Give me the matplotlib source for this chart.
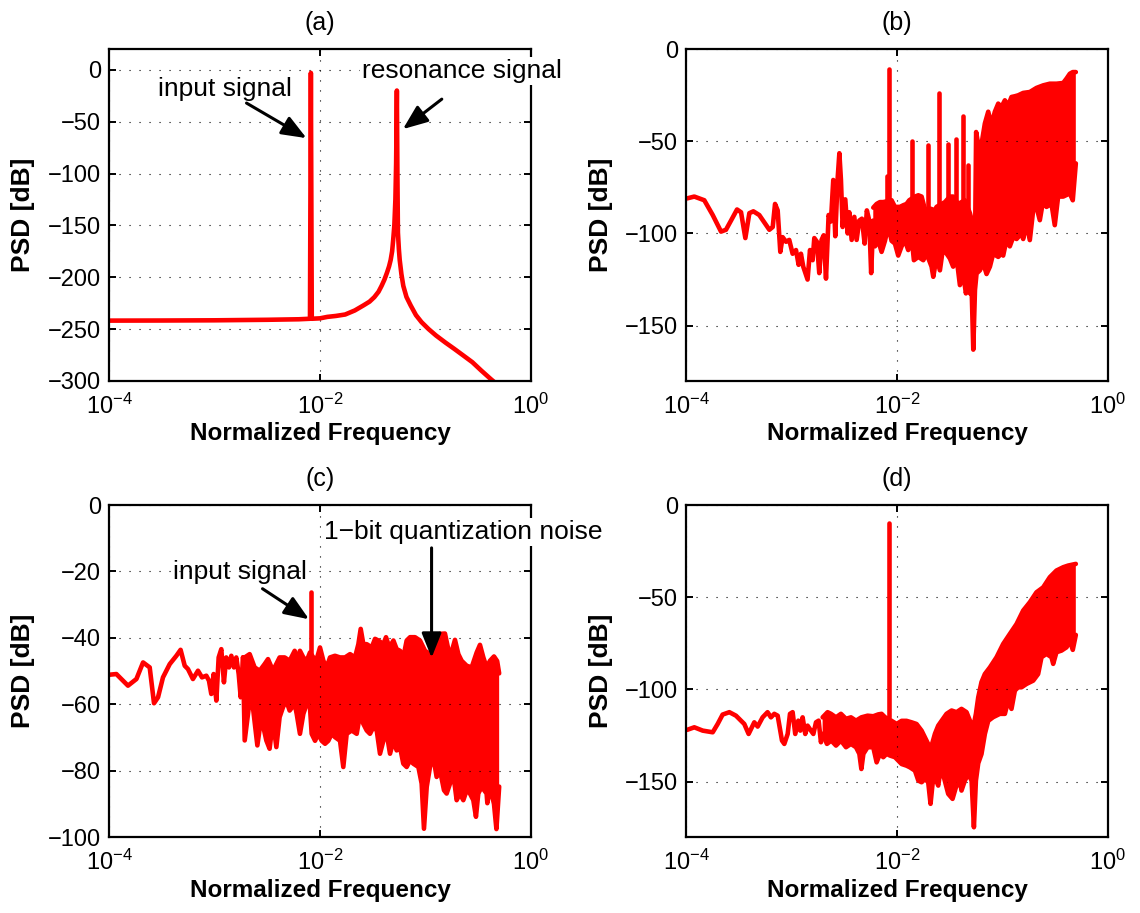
import numpy as np
import matplotlib
matplotlib.use("Agg")
import matplotlib.pyplot as plt
from matplotlib.ticker import NullLocator, FixedLocator

plt.rcParams['font.family'] = ['Liberation Sans', 'DejaVu Sans']
plt.rcParams['mathtext.fontset'] = 'custom'
plt.rcParams['mathtext.rm'] = 'Liberation Sans'
plt.rcParams['mathtext.it'] = 'Liberation Sans:italic'
plt.rcParams['mathtext.bf'] = 'Liberation Sans:bold'

RED = '#ff0000'
LW = 3.3

# ---------------------------------------------------------------- (a)
# ideal resonator response with the input tone, log10 of normalized frequency
a_log10f = [-4.0, -3.5, -3.0, -2.5, -2.2, -2.095, -2.0865, -2.078, -2.0,
            -1.93, -1.85, -1.761, -1.67, -1.589, -1.53, -1.485, -1.445,
            -1.416, -1.39, -1.364, -1.345, -1.33, -1.316, -1.306, -1.295,
            -1.285, -1.278, -1.271, -1.266, -1.261, -1.252, -1.244, -1.228,
            -1.21, -1.18, -1.14, -1.09, -1.037, -0.97, -0.899, -0.81, -0.727,
            -0.64, -0.555, -0.47, -0.382, -0.301]
a_db = [-241.8, -241.7, -241.5, -241.0, -240.5, -240.0, -3.0, -240.0, -239.6,
        -238.2, -237.3, -235.9, -232.0, -227.2, -223.5, -219.2, -214.0,
        -208.3, -202.5, -195.4, -189.5, -183.4, -175.0, -164.1, -150.0,
        -125.0, -90.0, -20.0, -100.0, -157.0, -173.0, -183.4, -197.0,
        -208.3, -219.0, -227.2, -236.5, -243.3, -250.0, -256.2, -263.0, -269.0,
        -275.5, -281.9, -290.0, -298.0, -305.0]

# ---------------------------------------------------------------- (b)
b_trace_log10f = [-3.994, -3.925, -3.83, -3.75, -3.671, -3.624, -3.576, -3.519,
                  -3.481, -3.44, -3.402, -3.364, -3.308, -3.26, -3.212, -3.18,
                  -3.158, -3.133, -3.108, -3.086, -3.054, -3.023, -2.991, -2.959,
                  -2.934, -2.912, -2.89, -2.849, -2.826, -2.801, -2.785, -2.76,
                  -2.738, -2.716, -2.696, -2.674, -2.649, -2.627, -2.605, -2.586,
                  -2.563, -2.547, -2.532, -2.516, -2.491, -2.468, -2.453, -2.43,
                  -2.405, -2.383, -2.358, -2.333, -2.307, -2.286, -2.263, -2.245,
                  -2.225]
b_trace_db = [-81.0, -80.0, -82.0, -90.0, -99.0, -98.0, -93.0, -87.0,
              -88.5, -102.5, -89.0, -88.0, -90.0, -94.0, -98.0, -96.5,
              -84.0, -87.5, -110.0, -102.0, -104.5, -103.5, -111.0, -109.0,
              -117.0, -111.0, -118.0, -125.0, -109.0, -114.5, -102.5, -104.5,
              -121.5, -103.5, -101.0, -124.5, -90.0, -93.5, -71.0, -101.5,
              -70.0, -56.5, -71.0, -96.5, -81.5, -100.0, -88.5, -103.5,
              -91.0, -103.5, -93.0, -92.0, -105.5, -87.5, -93.0, -121.5,
              -93.0]

b_hi_log10f = [-2.225, -2.193, -2.162, -2.13, -2.051, -2.019, -1.972, -1.94,
               -1.909, -1.883, -1.829, -1.797, -1.766, -1.734, -1.687, -1.639,
               -1.624, -1.576, -1.544, -1.497, -1.466, -1.418, -1.355, -1.307,
               -1.275, -1.256, -1.248, -1.212, -1.181, -1.165, -1.133, -1.102,
               -1.07, -1.038, -1.007, -0.975, -0.943, -0.912, -0.88, -0.849,
               -0.801, -0.738, -0.675, -0.611, -0.548, -0.485, -0.421, -0.389,
               -0.358, -0.33, -0.301]
b_hi_db = [-86.0, -84.0, -83.0, -83.0, -82.0, -85.6, -85.6, -84.7,
           -84.0, -82.0, -80.0, -79.3, -80.0, -87.0, -86.5, -87.4,
           -85.6, -84.0, -83.0, -80.0, -80.0, -84.0, -82.0, -89.0,
           -96.0, -92.0, -45.0, -57.0, -46.0, -40.4, -34.0, -41.0,
           -34.0, -29.6, -31.4, -27.8, -30.5, -26.0, -25.6, -25.1,
           -23.8, -23.3, -21.1, -19.7, -18.8, -18.8, -18.4, -16.0,
           -13.4, -12.5, -12.5]

b_lo_log10f = [-2.225, -2.209, -2.177, -2.146, -2.114, -2.082, -2.051, -2.019,
               -1.988, -1.956, -1.925, -1.893, -1.861, -1.839, -1.797, -1.75,
               -1.719, -1.671, -1.655, -1.624, -1.592, -1.561, -1.529, -1.497,
               -1.466, -1.434, -1.402, -1.371, -1.345, -1.323, -1.307, -1.291,
               -1.275, -1.259, -1.244, -1.212, -1.181, -1.149, -1.117, -1.086,
               -1.038, -1.007, -0.991, -0.96, -0.928, -0.896, -0.864, -0.817,
               -0.801, -0.77, -0.738, -0.706, -0.675, -0.643, -0.611, -0.58,
               -0.532, -0.501, -0.469, -0.421, -0.358, -0.33, -0.301]
b_lo_db = [-104.0, -107.0, -104.0, -110.0, -104.0, -96.0, -104.0, -105.5,
           -112.0, -107.0, -103.6, -109.0, -102.0, -114.5, -112.7, -114.5,
           -110.9, -118.0, -123.5, -113.0, -120.0, -107.2, -110.9, -113.6,
           -118.0, -113.0, -128.0, -121.7, -132.5, -125.3, -132.5, -129.0,
           -163.0, -130.7, -121.7, -120.0, -116.0, -122.0, -118.0, -111.0,
           -112.7, -110.9, -112.0, -103.6, -107.0, -102.0, -103.0, -100.0,
           -103.0, -94.6, -103.6, -87.4, -85.6, -92.8, -82.0, -85.6,
           -84.0, -95.5, -80.0, -80.0, -78.3, -82.0, -62.0]

b_tone_log10f = [-2.098, -2.076, -1.861, -1.709, -1.598, -1.513, -1.44, -1.376, -1.322]
b_tone_base = [-84.0, -84.0, -82.0, -86.0, -86.0, -83.0, -82.0, -82.0, -88.0]
b_tone_top = [-69.0, -11.0, -50.0, -52.3, -23.8, -51.6, -48.6, -36.1, -63.0]

# ---------------------------------------------------------------- (c)
c_trace_log10f = [-3.995, -3.931, -3.821, -3.741, -3.678, -3.615, -3.574, -3.536,
                  -3.489, -3.425, -3.362, -3.322, -3.283, -3.252, -3.205, -3.157,
                  -3.119, -3.078, -3.053, -3.031, -3.009, -2.983, -2.961, -2.936,
                  -2.911, -2.889, -2.863, -2.841, -2.816, -2.794, -2.771, -2.752,
                  -2.73]
c_trace_db = [-51.1, -50.9, -54.4, -52.4, -47.4, -48.9, -59.7, -57.9,
              -51.9, -47.9, -45.4, -43.6, -48.4, -49.4, -52.4, -49.9,
              -51.9, -51.4, -52.9, -56.9, -50.9, -58.9, -45.9, -43.4,
              -53.4, -45.9, -48.9, -45.4, -48.9, -45.9, -50.9, -57.9,
              -45.9]

c_hi_log10f = [-2.73, -2.714, -2.667, -2.62, -2.572, -2.525, -2.493, -2.446,
               -2.383, -2.335, -2.288, -2.24, -2.221, -2.19, -2.158, -2.126,
               -2.095, -2.063, -2.031, -2.0, -1.968, -1.937, -1.905, -1.858,
               -1.81, -1.763, -1.715, -1.668, -1.636, -1.614, -1.589, -1.557,
               -1.51, -1.478, -1.446, -1.399, -1.374, -1.342, -1.304, -1.273,
               -1.241, -1.21, -1.178, -1.146, -1.099, -1.052, -1.004, -0.957,
               -0.894, -0.862, -0.815, -0.767, -0.72, -0.688, -0.657, -0.609,
               -0.562, -0.514, -0.483, -0.451, -0.42, -0.388, -0.35, -0.32,
               -0.301]
c_hi_db = [-45.9, -45.9, -44.9, -48.9, -49.9, -47.9, -46.4, -49.9,
           -45.9, -45.9, -46.9, -43.9, -46.9, -43.9, -45.9, -46.9,
           -44.4, -45.9, -46.4, -42.9, -46.9, -48.9, -45.9, -45.4,
           -45.9, -45.9, -44.9, -45.9, -41.9, -37.3, -41.9, -41.9,
           -42.9, -40.3, -40.8, -41.9, -39.8, -42.9, -40.8, -43.4,
           -43.9, -45.9, -40.8, -39.8, -39.8, -40.8, -43.9, -44.9,
           -41.9, -38.8, -38.7, -45.9, -40.6, -44.9, -46.9, -48.4,
           -48.9, -44.4, -42.1, -45.9, -48.9, -46.9, -45.6, -47.0,
           -50.7]

c_lo_log10f = [-2.73, -2.714, -2.667, -2.636, -2.594, -2.557, -2.509, -2.478,
               -2.446, -2.414, -2.383, -2.351, -2.32, -2.288, -2.24, -2.221,
               -2.19, -2.158, -2.126, -2.095, -2.079, -2.047, -2.016, -1.984,
               -1.952, -1.921, -1.889, -1.858, -1.81, -1.779, -1.747, -1.699,
               -1.652, -1.62, -1.589, -1.557, -1.526, -1.494, -1.462, -1.431,
               -1.399, -1.367, -1.336, -1.304, -1.273, -1.241, -1.21, -1.178,
               -1.146, -1.115, -1.067, -1.036, -1.014, -0.988, -0.957, -0.925,
               -0.894, -0.862, -0.824, -0.799, -0.767, -0.736, -0.704, -0.673,
               -0.641, -0.609, -0.578, -0.546, -0.521, -0.499, -0.467, -0.42,
               -0.413, -0.388, -0.35, -0.327, -0.301]
c_lo_db = [-45.9, -70.9, -58.9, -60.9, -72.4, -63.9, -70.9, -73.4,
           -64.9, -72.9, -63.9, -60.9, -58.9, -61.9, -59.9, -62.9,
           -68.9, -62.9, -59.9, -60.9, -68.9, -71.0, -68.9, -71.0,
           -71.9, -71.0, -68.9, -69.9, -71.0, -78.9, -68.9, -67.9,
           -68.9, -62.9, -65.9, -67.9, -68.9, -66.9, -67.9, -74.9,
           -71.0, -68.9, -74.9, -71.0, -73.9, -72.9, -77.9, -78.9,
           -76.9, -77.9, -78.9, -83.9, -97.5, -84.9, -78.9, -75.9,
           -81.9, -79.9, -85.9, -86.9, -83.9, -80.9, -88.9, -86.9,
           -88.9, -85.9, -86.9, -88.9, -93.9, -86.9, -84.9, -86.9,
           -89.8, -84.9, -90.0, -97.6, -84.8]

c_tone_log10f = [-2.086]
c_tone_base = [-45.0]
c_tone_top = [-26.1]

# ---------------------------------------------------------------- (d)
d_trace_log10f = [-3.994, -3.925, -3.845, -3.75, -3.703, -3.656, -3.592, -3.529,
                  -3.45, -3.409, -3.355, -3.323, -3.276, -3.229, -3.197, -3.165,
                  -3.133, -3.092, -3.07, -3.038, -3.016, -2.991, -2.966, -2.937,
                  -2.918, -2.896, -2.871, -2.849, -2.817, -2.794, -2.769, -2.744,
                  -2.722, -2.706]
d_trace_db = [-121.9, -120.5, -122.3, -123.2, -118.7, -113.6, -112.3, -114.2,
              -118.7, -124.1, -117.8, -120.1, -115.1, -112.3, -115.1, -113.2,
              -114.2, -127.7, -129.5, -124.1, -113.2, -112.3, -124.1, -116.9,
              -122.3, -115.1, -124.1, -119.6, -122.3, -124.1, -117.8, -116.9,
              -128.6, -124.1]

d_hi_log10f = [-2.706, -2.659, -2.627, -2.579, -2.532, -2.484, -2.437, -2.389,
               -2.338, -2.279, -2.225, -2.177, -2.146, -2.114, -2.051, -2.003,
               -1.956, -1.909, -1.861, -1.814, -1.766, -1.734, -1.703, -1.671,
               -1.639, -1.608, -1.576, -1.529, -1.481, -1.434, -1.387, -1.339,
               -1.307, -1.275, -1.25, -1.228, -1.197, -1.165, -1.117, -1.054,
               -0.991, -0.928, -0.864, -0.801, -0.738, -0.675, -0.611, -0.548,
               -0.485, -0.421, -0.374, -0.301]
d_hi_db = [-115.1, -112.3, -113.2, -115.1, -113.2, -115.9, -115.1, -116.9,
           -115.1, -114.2, -114.5, -113.5, -113.2, -115.0, -117.0, -118.7,
           -117.0, -117.0, -117.8, -118.7, -122.3, -126.0, -129.6, -130.5,
           -124.0, -119.6, -117.0, -113.2, -111.4, -112.3, -110.5, -112.3,
           -116.9, -120.5, -113.2, -104.3, -96.0, -91.6, -88.0, -82.5,
           -75.3, -69.9, -64.5, -57.2, -52.7, -47.3, -44.6, -39.1,
           -35.5, -33.7, -32.8, -31.9]

d_lo_log10f = [-2.706, -2.665, -2.624, -2.579, -2.532, -2.484, -2.437, -2.389,
               -2.357, -2.338, -2.319, -2.279, -2.225, -2.193, -2.162, -2.13,
               -2.098, -2.067, -2.019, -1.956, -1.909, -1.877, -1.829, -1.797,
               -1.766, -1.734, -1.703, -1.681, -1.662, -1.639, -1.608, -1.592,
               -1.554, -1.513, -1.472, -1.44, -1.402, -1.387, -1.355, -1.323,
               -1.291, -1.269, -1.25, -1.228, -1.197, -1.165, -1.133, -1.086,
               -1.022, -0.975, -0.943, -0.912, -0.88, -0.849, -0.817, -0.77,
               -0.706, -0.659, -0.627, -0.58, -0.532, -0.516, -0.485, -0.437,
               -0.389, -0.358, -0.33, -0.301]
d_lo_db = [-124.1, -129.5, -127.7, -130.4, -127.7, -131.3, -129.5, -131.3,
           -134.9, -143.1, -134.9, -131.3, -131.3, -139.5, -134.9, -136.7,
           -134.9, -135.8, -136.7, -140.4, -141.3, -142.2, -144.0, -149.4,
           -150.3, -148.5, -150.3, -162.0, -151.2, -147.6, -152.1, -145.8,
           -147.6, -156.6, -159.3, -153.0, -149.4, -154.8, -149.4, -145.8,
           -149.4, -174.7, -149.4, -140.0, -135.0, -124.1, -117.0, -115.0,
           -113.2, -113.2, -106.0, -110.5, -100.6, -98.8, -98.8, -97.0,
           -95.2, -91.6, -82.5, -80.7, -82.5, -86.1, -79.8, -78.9,
           -77.1, -73.5, -78.5, -70.4]

d_tone_log10f = [-2.076]
d_tone_base = [-115.0]
d_tone_top = [-9.9]


def style_axes(ax, ylim, yticks, title):
    ax.set_xscale('log')
    ax.set_xlim(1e-4, 1.0)
    ax.set_ylim(*ylim)
    ax.xaxis.set_major_locator(FixedLocator([1e-4, 1e-2, 1.0]))
    ax.xaxis.set_minor_locator(NullLocator())
    ax.set_yticks(yticks)
    ax.grid(True, which='major', color='black', linestyle=(0, (1, 8)),
            linewidth=0.8)
    ax.tick_params(which='both', direction='in', top=True, right=True,
                   length=5, width=1.4, labelsize=17)
    ax.tick_params(axis='y', pad=6)
    ax.tick_params(axis='x', pad=9)
    for sp in ax.spines.values():
        sp.set_linewidth(1.6)
    ax.set_title(title, fontsize=18, pad=14)
    ax.set_xlabel('Normalized Frequency', fontsize=17.5, fontweight='bold')
    ax.set_ylabel('PSD [dB]', fontsize=19, fontweight='bold')
    ax.xaxis.set_label_coords(0.5, -0.125)
    ax.yaxis.set_label_coords(-0.175, 0.5)


def draw_spectrum(ax, trace_lf, trace_db, hi_lf, hi_db, lo_lf, lo_db,
                  tone_lf, tone_base, tone_top):
    hi_f = 10.0 ** np.asarray(hi_lf)
    lo_f = 10.0 ** np.asarray(lo_lf)
    ax.fill(np.r_[hi_f, lo_f[::-1]], np.r_[hi_db, lo_db[::-1]],
            color=RED, lw=0)
    kw = dict(color=RED, lw=LW, solid_joinstyle='round', solid_capstyle='round')
    ax.plot(10.0 ** np.asarray(trace_lf), trace_db, **kw)
    ax.plot(hi_f, hi_db, **kw)
    ax.plot(lo_f, lo_db, **kw)
    for lf, b0, t0 in zip(tone_lf, tone_base, tone_top):
        ax.plot([10.0 ** lf, 10.0 ** lf], [b0, t0], **kw)


def arrow(ax, start, tip):
    ax.annotate('', xy=tip, xytext=start,
                arrowprops=dict(arrowstyle='-|>,head_length=0.75,head_width=0.3',
                                color='black', lw=2.2, mutation_scale=20,
                                shrinkA=0, shrinkB=0))


fig = plt.figure(figsize=(11.4, 9.13), dpi=100)
ax_a = fig.add_axes([0.0957, 0.5827, 0.3700, 0.3636])
ax_b = fig.add_axes([0.6021, 0.5827, 0.3694, 0.3636])
ax_c = fig.add_axes([0.0957, 0.0832, 0.3700, 0.3636])
ax_d = fig.add_axes([0.6021, 0.0832, 0.3694, 0.3636])

# (a)
ax_a.plot(10.0 ** np.asarray(a_log10f), a_db, color=RED, lw=LW,
          solid_joinstyle='round')
style_axes(ax_a, (-300, 20), np.arange(-300, 1, 50), '(a)')
ax_a.text(2.92e-4, -25.7, 'input signal', fontsize=19)
arrow(ax_a, (0.00201, -32.1), (0.00745, -65.9))
ax_a.text(0.0249, -8, 'resonance signal', fontsize=19, zorder=5,
          bbox=dict(boxstyle='square,pad=0.08', facecolor='white',
                    edgecolor='none'))
arrow(ax_a, (0.1429, -28.3), (0.0611, -57.2))

# (b)
draw_spectrum(ax_b, b_trace_log10f, b_trace_db, b_hi_log10f, b_hi_db,
              b_lo_log10f, b_lo_db, b_tone_log10f, b_tone_base, b_tone_top)
style_axes(ax_b, (-180, 0), np.arange(-150, 1, 50), '(b)')

# (c)
draw_spectrum(ax_c, c_trace_log10f, c_trace_db, c_hi_log10f, c_hi_db,
              c_lo_log10f, c_lo_db, c_tone_log10f, c_tone_base, c_tone_top)
style_axes(ax_c, (-100, 0), np.arange(-100, 1, 20), '(c)')
ax_c.text(4.0e-4, -22.3, 'input signal', fontsize=19)
arrow(ax_c, (0.00285, -25.2), (0.00787, -34.4))
ax_c.text(0.0108, -10.3, '1\u2212bit quantization noise', fontsize=19,
          zorder=5, bbox=dict(boxstyle='square,pad=0.08', facecolor='white',
                              edgecolor='none'))
arrow(ax_c, (0.1143, -12.9), (0.1143, -46.0))

# (d)
draw_spectrum(ax_d, d_trace_log10f, d_trace_db, d_hi_log10f, d_hi_db,
              d_lo_log10f, d_lo_db, d_tone_log10f, d_tone_base, d_tone_top)
style_axes(ax_d, (-180, 0), np.arange(-150, 1, 50), '(d)')

fig.savefig('out.png', dpi=100)
